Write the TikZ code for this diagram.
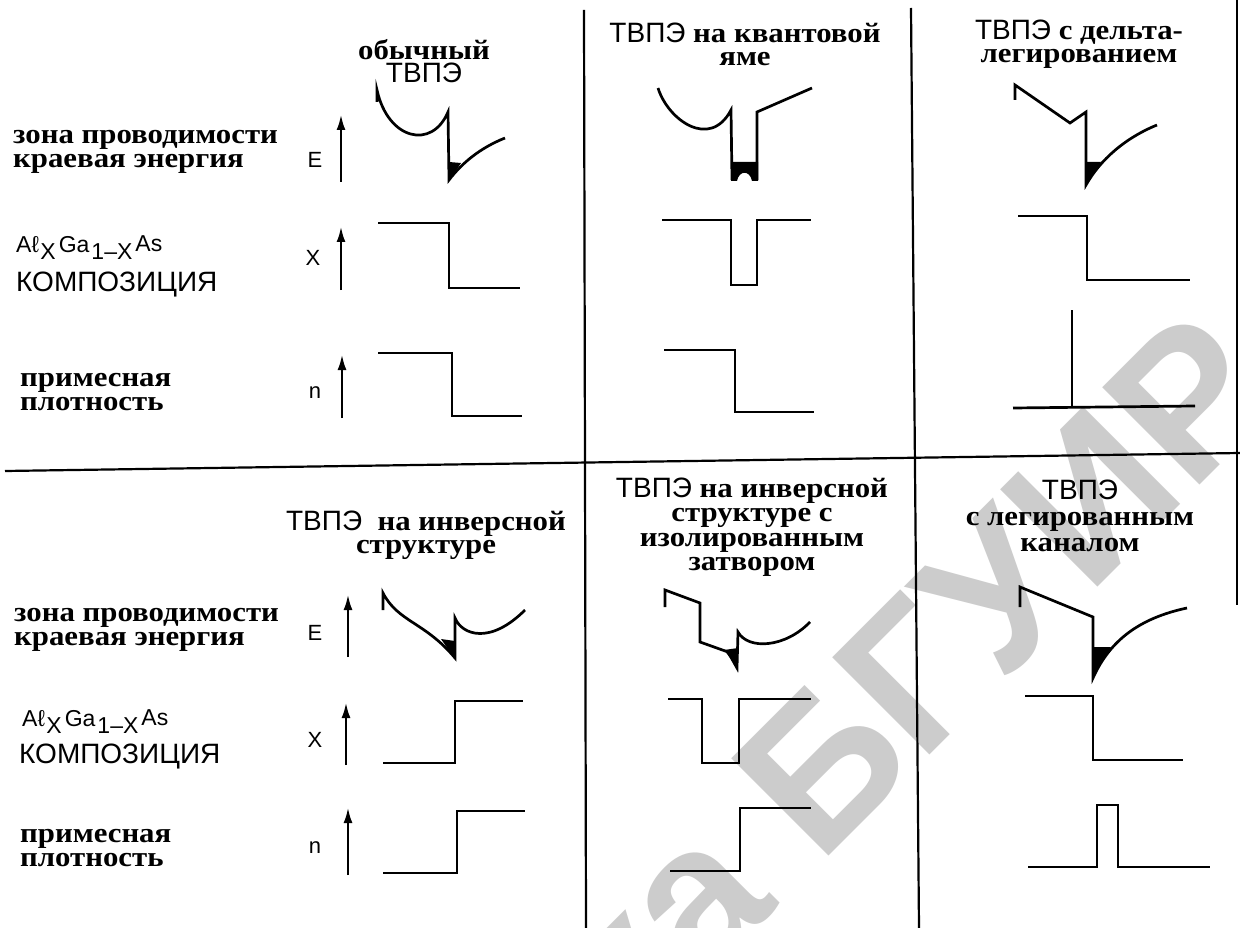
\documentclass[tikz,border=0pt]{standalone}
\usepackage{fontspec}
\setmainfont{Liberation Serif}
\newfontfamily\arialf{Liberation Sans}
\newfontfamily\lblf{Liberation Serif}[FakeStretch=1.1]
\usetikzlibrary{arrows.meta}
\newcommand{\algaas}{A\char"2113\kern1.5pt\raisebox{-7pt}{X}\kern3ptGa\kern2pt\raisebox{-7pt}{1–X}\kern3pt\raisebox{1pt}{As}}
\begin{document}
\begin{tikzpicture}[x=1pt,y=-1pt,
  lbl/.style={font=\lblf\bfseries\fontsize{28}{23.5}\selectfont, align=left, inner sep=0pt, anchor=west},
  ttl/.style={font=\lblf\bfseries\fontsize{28}{23}\selectfont, align=center, inner sep=0pt},
  sanslbl/.style={font=\arialf\fontsize{28}{28}\selectfont, inner sep=0pt, anchor=west},
  alga/.style={font=\arialf\fontsize{23}{23}\selectfont, inner sep=0pt, anchor=west},
  axlbl/.style={font=\arialf\fontsize{22}{22}\selectfont, inner sep=0pt},
  ax/.style={line width=2pt, -{Latex[length=15pt,width=9pt]}},
  crv/.style={line width=2.7pt, line join=miter},
  gridl/.style={line width=2.2pt},
  wm/.style={font=\arialf\bfseries\fontsize{200}{200}\selectfont, text=black!20, inner sep=0pt}]
\useasboundingbox[fill=white] (0,0) rectangle (1240,928);
% watermark
\begin{scope}
\clip (0,0) rectangle (1240,928);
\node[wm, rotate=45, anchor=base east] (wmark) at (1285,400) {Библиотека БГУИР};
\end{scope}
% grid
\draw[gridl] (584,10) -- (586,928);
\draw[gridl] (911,8) -- (919,928);
\draw[gridl] (5,471) -- (1240,453);
\draw[gridl] (1237,0) -- (1237,605);
% ---------- top half ----------
\node[lbl] (t1a) at (13,152) {зона проводимости\\краевая энергия};
\node[alga] (t1b) at (16,248) {\algaas};
\node[sanslbl] (t1c) at (16,285) {КОМПОЗИЦИЯ};
\node[lbl] (t1d) at (20,392) {примесная\\плотность};
\node[axlbl] (tE) at (315,160) {E};
\node[axlbl] (tX) at (313,258) {X};
\node[axlbl] (tn) at (315,393) {n};
\draw[ax] (341,182) -- (341,115);
\draw[ax] (341,290) -- (341,227);
\draw[ax] (342,418) -- (342,355);
\node[ttl] (h1) at (424,61) {обычный\\{\arialf\mdseries ТВПЭ}};
\node[ttl] (h2) at (745,44) {{\arialf\mdseries ТВПЭ} на квантовой\\яме};
\node[ttl] (h3) at (1079,44) {{\arialf\mdseries ТВПЭ} с дельта-\\легированием};
% col1 top
\draw[crv] (377,102) -- (377,90) .. controls (388,140) and (432,150) .. (448,112) -- (449,180) .. controls (462,163) and (480,148) .. (505,138);
\fill (449,162) -- (461,163) -- (449,181) -- cycle;
\draw[crv] (378,223) -- (449,223) -- (449,288) -- (520,288);
\draw[crv] (378,353) -- (452,353) -- (452,416) -- (522,416);
% col2 top
\draw[crv] (658,88) .. controls (668,120) and (710,150) .. (731,110) -- (732,180);
\draw[crv] (757,180) -- (757,112) -- (812,88);
\fill (731,162) -- (758,162) -- (758,181) -- (752,181) .. controls (750,170) and (739,170) .. (737,181) -- (731,181) -- cycle;
\draw[crv] (662,220) -- (731,220) -- (731,285) -- (757,285) -- (757,220) -- (811,220);
\draw[crv] (664,350) -- (735,350) -- (735,412) -- (814,412);
% col3 top
\draw[crv] (1015,100) -- (1015,85) -- (1070,123) -- (1086,112) -- (1086,185) .. controls (1100,160) and (1125,138) .. (1157,125);
\fill (1086,162) -- (1101,162) -- (1086,186) -- cycle;
\draw[crv] (1018,216) -- (1087,216) -- (1087,280) -- (1190,280);
\draw[crv] (1072,310) -- (1072,407);
\draw[crv] (1013,408) -- (1195,406);
% ---------- bottom half ----------
\node[lbl] (b1a) at (14,630) {зона проводимости\\краевая энергия};
\node[alga] (b1b) at (22,722) {\algaas};
\node[sanslbl] (b1c) at (19,757) {КОМПОЗИЦИЯ};
\node[lbl] (b1d) at (20,848) {примесная\\плотность};
\node[axlbl] (bE) at (315,633) {E};
\node[axlbl] (bX) at (315,740) {X};
\node[axlbl] (bn) at (315,848) {n};
\draw[ax] (348,657) -- (348,595);
\draw[ax] (346,765) -- (346,703);
\draw[ax] (348,875) -- (348,808);
\node[ttl] (g1) at (426,535) {{\arialf\mdseries ТВПЭ} \ на инверсной\\структуре};
\node[ttl, font=\lblf\bfseries\fontsize{28}{24.5}\selectfont] (g2) at (752,527) {{\arialf\mdseries ТВПЭ} на инверсной\\структуре с\\изолированным\\затвором};
\node[ttl, font=\lblf\bfseries\fontsize{28}{26}\selectfont] (g3) at (1080,516) {{\arialf\mdseries ТВПЭ}\\с легированным\\каналом};
% col1 bottom
\draw[crv] (383,610) -- (383,593) .. controls (398,622) and (425,622) .. (455,658) -- (455,618) .. controls (462,635) and (490,645) .. (525,610);
\fill (441,639) -- (455,641) -- (455,659) -- cycle;
\draw[crv] (383,763) -- (455,763) -- (455,701) -- (523,701);
\draw[crv] (383,873) -- (457,873) -- (457,811) -- (525,811);
% col2 bottom
\draw[crv] (665,607) -- (665,590) -- (700,603) -- (700,642) -- (728,652) -- (737,668) -- (738,632) .. controls (748,650) and (785,648) .. (810,622);
\fill (724,650) -- (738,648) -- (737,667) -- cycle;
\draw[crv] (668,699) -- (702,699) -- (702,763) -- (739,763) -- (739,699) -- (811,699);
\draw[crv] (670,871) -- (740,871) -- (740,808) -- (811,808);
% col3 bottom
\draw[crv] (1020,607) -- (1020,587) -- (1093,617) -- (1093,678) .. controls (1110,640) and (1140,618) .. (1187,608);
\fill (1093,647) -- (1111,647) -- (1093,676) -- cycle;
\draw[crv] (1025,696) -- (1093,696) -- (1093,760) -- (1183,760);
\draw[crv] (1028,867) -- (1097,867) -- (1097,805) -- (1118,805) -- (1118,867) -- (1210,867);
\end{tikzpicture}
\end{document}
